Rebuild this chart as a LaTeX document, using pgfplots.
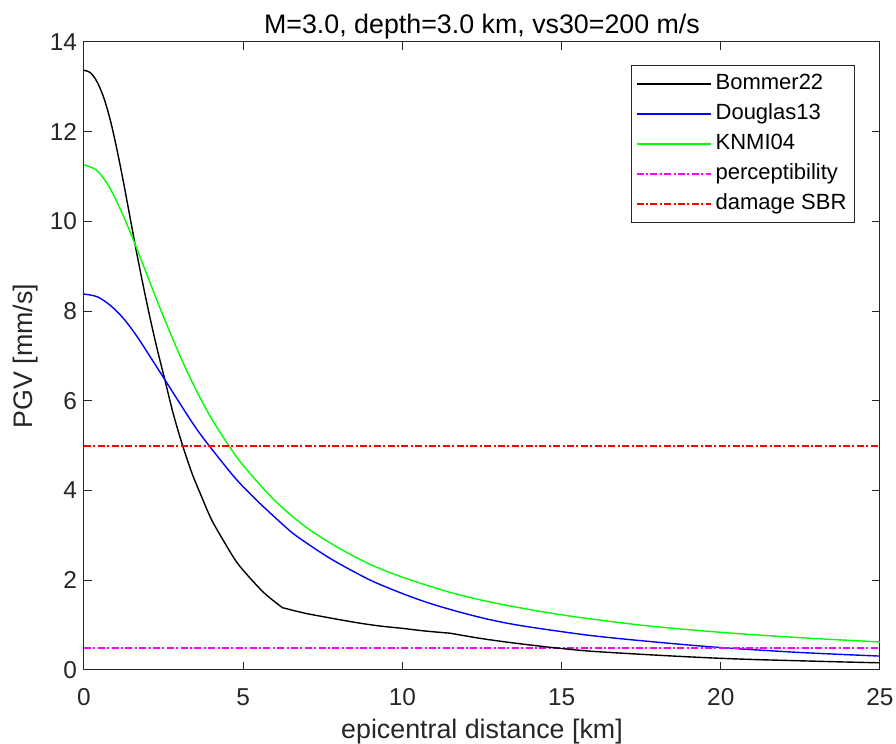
\documentclass[border=0pt]{standalone}
\usepackage{pgfplots}
\pgfplotsset{compat=1.18}
\usepackage{fontspec}
\setmainfont{Liberation Sans}
\definecolor{axgray}{rgb}{0.15,0.15,0.15}
\definecolor{mgreen}{rgb}{0,1,0}
\definecolor{mblue}{rgb}{0,0,1}
\definecolor{mmag}{rgb}{1,0,1}
\definecolor{mred}{rgb}{1,0,0}
\begin{document}
\begin{tikzpicture}
\begin{axis}[
  scale only axis, width=398pt, height=314pt,
  xmin=0, xmax=25, ymin=0, ymax=14,
  xtick={0,5,10,15,20,25}, ytick={0,2,4,6,8,10,12,14},
  tick align=inside, major tick length=4pt,
  axis line style={axgray, line width=0.5pt},
  every tick/.style={axgray, line width=0.5pt},
  /pgf/number format/assume math mode=true,
  ticklabel style={font=\fontsize{12.2}{14}\selectfont, text=axgray},
  xticklabel style={anchor=base, yshift=-18pt},
  title={M=3.0, depth=3.0 km, vs30=200 m/s},
  title style={font=\fontsize{13.4}{16}\selectfont, text=black, at={(axis description cs:0.5,1)}, anchor=base, yshift=-2pt},
  xlabel={epicentral distance [km]},
  xlabel style={font=\fontsize{13.4}{16}\selectfont, text=axgray, at={(axis description cs:0.5,0)}, anchor=base, yshift=-34.5pt},
  ylabel={PGV [mm/s]},
  ylabel style={font=\fontsize{13.4}{16}\selectfont, text=axgray, at={(axis description cs:-0.0641,0.5)}, anchor=base},
  legend cell align=left,
  legend image code/.code={\draw[#1] (0pt,0pt) -- (37pt,0pt);},
  legend style={at={(axis description cs:0.9686,0.9634)}, anchor=north east,
    draw=axgray, line width=0.5pt, fill=white,
    font=\fontsize{11}{13}\selectfont,
    inner xsep=2pt, inner ysep=2pt, row sep=0.5pt,
    nodes={inner sep=2pt, text height=8pt, text depth=2.5pt},
    /tikz/every even column/.append style={column sep=0pt}},
]
% Bommer22 (three pieces, kinks at ~6.2 and ~11.5 km)
\addplot[black, line width=0.7pt, smooth] coordinates {
(0,13.37) (0.21,13.31) (0.42,13.10) (0.63,12.74) (0.84,12.22) (1.05,11.55)
(1.26,10.80) (1.47,10.00) (1.66,9.28) (1.88,8.50) (2.09,7.80) (2.30,7.15)
(2.55,6.44) (2.80,5.72) (3.09,5.02) (3.40,4.37) (3.66,3.92) (4.00,3.36)
(4.40,2.86) (4.80,2.40) (5.24,2.03) (5.70,1.69) (6.23,1.39)};
\addlegendentry{Bommer22}
\addplot[mblue, line width=0.7pt, smooth] coordinates {
(0,8.38) (0.42,8.32) (0.84,8.12) (1.26,7.82) (1.68,7.42) (2.09,6.97)
(2.55,6.46) (3.14,5.80) (3.53,5.38) (3.93,5.00) (4.71,4.31) (5.20,3.94)
(5.65,3.63) (6.47,3.10) (6.91,2.87) (7.50,2.59) (8.04,2.36) (9.00,2.00)
(9.98,1.71) (10.8,1.50) (11.7,1.31) (12.7,1.13) (13.8,0.98) (15.9,0.77)
(18.0,0.62) (20,0.50) (22.5,0.39) (25,0.31)};
\addlegendentry{Douglas13}
\addplot[mgreen, line width=0.7pt, smooth] coordinates {
(0,11.26) (0.4,11.14) (0.8,10.76) (1.2,10.18) (1.6,9.50) (2.0,8.77)
(2.5,7.87) (3.0,7.03) (3.5,6.27) (4.0,5.61) (4.55,5.00) (5.0,4.56)
(6.0,3.77) (7.0,3.17) (8.0,2.72) (9.0,2.35) (10,2.07) (11.5,1.73)
(13,1.48) (15,1.23) (17.5,1.00) (20,0.84) (22.5,0.72) (25,0.625)};
\addlegendentry{KNMI04}
\addplot[draw=mmag, line width=1pt, dash pattern=on 3.5pt off 1.2pt on 1pt off 1.2pt] coordinates {(0,0.5) (25,0.5)};
\addlegendentry{perceptibility}
\addplot[draw=mred, line width=1pt, dash pattern=on 3.5pt off 1.2pt on 1pt off 1.2pt] coordinates {(0,5) (25,5)};
\addlegendentry{damage SBR}
\addplot[black, line width=0.7pt, smooth, forget plot] coordinates {
(6.23,1.39) (6.91,1.27) (7.5,1.19) (8.04,1.12) (8.7,1.04) (9.3,0.98)
(9.98,0.93) (10.7,0.87) (11.5,0.82)};
\addplot[black, line width=0.7pt, smooth, forget plot] coordinates {
(11.5,0.82) (12.4,0.71) (13.3,0.62) (14.1,0.55) (14.85,0.49) (15.9,0.42)
(17.5,0.35) (18.8,0.30) (20,0.26) (21.2,0.23) (22.5,0.205) (23.8,0.18) (25,0.16)};
\end{axis}
\pgfresetboundingbox
\path[use as bounding box] (-42pt,-37pt) rectangle (406pt,335pt);
\end{tikzpicture}
\end{document}
